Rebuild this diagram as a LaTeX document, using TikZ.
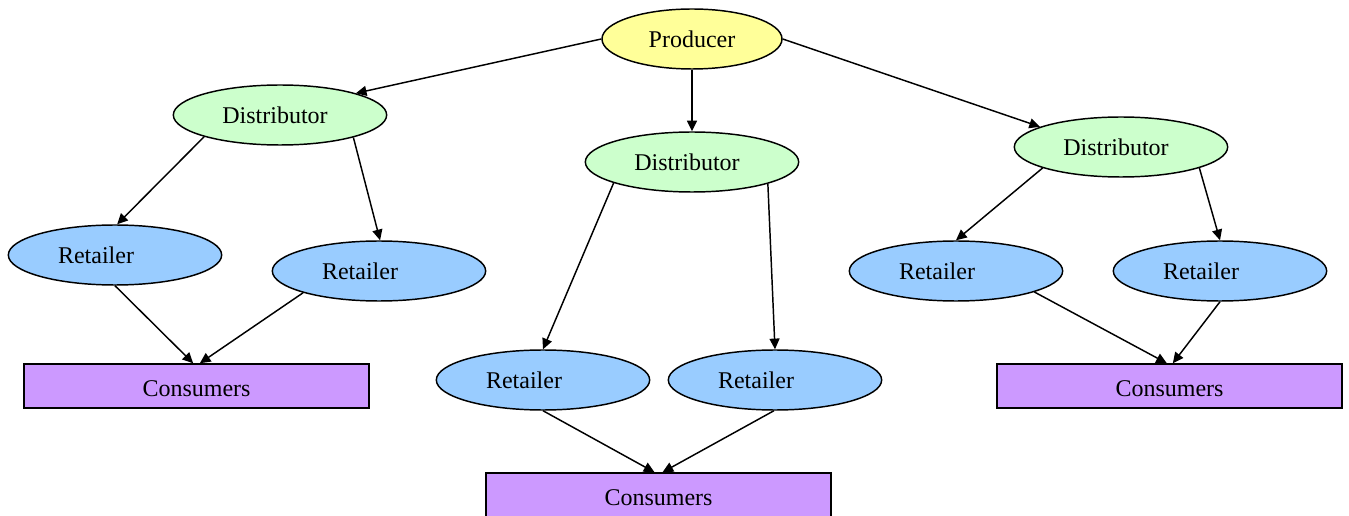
\documentclass[tikz,border=0pt]{standalone}
\usepackage{fontspec}
\setmainfont{Liberation Serif}
\usetikzlibrary{shapes.geometric,arrows.meta}
\definecolor{prodc}{HTML}{FFFF99}
\definecolor{distc}{HTML}{CCFFCC}
\definecolor{retc}{HTML}{99CCFF}
\definecolor{consc}{HTML}{CC99FF}
\begin{document}
\begin{tikzpicture}[x=0.75pt,y=-0.75pt,
  every node/.style={font=\fontsize{18}{20}\selectfont, inner sep=0pt, line width=1.1pt, draw=black},
  ell/.style={ellipse, minimum height=45pt},
  prodn/.style={ell, fill=prodc, minimum width=135pt},
  distn/.style={ell, fill=distc, minimum width=160pt},
  retn/.style={ell, fill=retc, minimum width=160pt},
  consn/.style={rectangle, fill=consc, minimum width=258.75pt, minimum height=33pt},
  edge/.style={line width=1.1pt, -{Triangle[length=8pt,width=7.5pt]}}]
\useasboundingbox (0,0) rectangle (1349,516);
\newcommand{\rtxt}{Retailer\hspace*{28.5pt}}
\newcommand{\dtxt}{Distributor\hspace*{7.5pt}}
\newcommand{\ctxt}{\raisebox{-2.2pt}[\height][\depth]{Consumers}}
\node[prodn] (p) at (692,39) {Producer};
\node[distn] (dl) at (280,115) {\dtxt};
\node[distn] (dm) at (692,162) {\dtxt};
\node[distn] (dr) at (1121,147) {\dtxt};
\node[retn] (rl1) at (115,255) {\rtxt};
\node[retn] (rl2) at (379,271) {\rtxt};
\node[retn] (rm1) at (543,380) {\rtxt};
\node[retn] (rm2) at (775,380) {\rtxt};
\node[retn] (rr1) at (956,271) {\rtxt};
\node[retn] (rr2) at (1220,271) {\rtxt};
\node[consn] (cl) at (196.5,386) {\ctxt};
\node[consn] (cm) at (658.5,495) {\ctxt};
\node[consn] (cr) at (1169.5,386) {\ctxt};
\draw[edge] (p.180) -- (dl.16);
\draw[edge] (p.270) -- (dm.90);
\draw[edge] (p.0) -- (dr.166);
\draw[edge] (dl.196) -- (rl1.86);
\draw[edge] (dl.343) -- (rl2.88);
\draw[edge] (dm.195) -- (rm1.90);
\draw[edge] (dm.344) -- (rm2.90);
\draw[edge] (dr.195) -- (rr1.90);
\draw[edge] (dr.345) -- (rr2.90);
\draw[edge] (rl1.270) -- ([xshift=-2.5pt]cl.north);
\draw[edge] (rl2.196) -- ([xshift=2.5pt]cl.north);
\draw[edge] (rm1.270) -- ([xshift=-3pt]cm.north);
\draw[edge] (rm2.268) -- ([xshift=3pt]cm.north);
\draw[edge] (rr1.345) -- ([xshift=-2pt]cr.north);
\draw[edge] (rr2.270) -- ([xshift=2.5pt]cr.north);
\end{tikzpicture}
\end{document}
